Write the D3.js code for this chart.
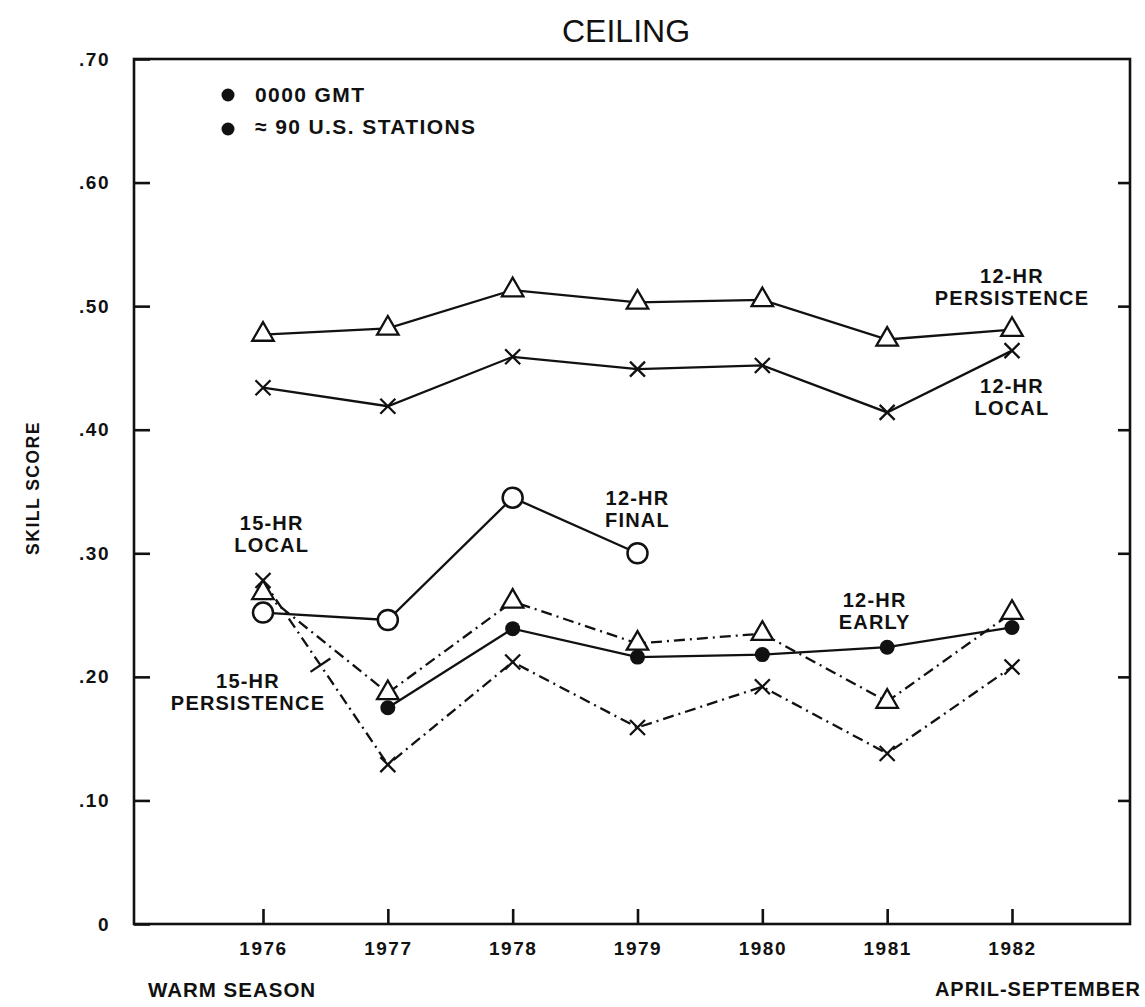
<!DOCTYPE html>
<html>
<head>
<meta charset="utf-8">
<script src="https://cdn.jsdelivr.net/npm/d3@7"></script>
<style>
  html, body { margin: 0; padding: 0; background: #fff; }
  svg { display: block; }
  text { font-family: "Liberation Sans", Arial, Helvetica, sans-serif; fill: #111; }
</style>
</head>
<body>
<svg id="chart" width="1145" height="1007"></svg>
<script>
// Seasons (warm season, April-September)
const years = [1976, 1977, 1978, 1979, 1980, 1981, 1982];
const yearLabels = ["1976", "1977", "1978", "1979", "1980", "1981", "1982"];
const yTickValues = [0, 0.1, 0.2, 0.3, 0.4, 0.5, 0.6, 0.7];
const yTickLabels = ["0", ".10", ".20", ".30", ".40", ".50", ".60", ".70"];

// Skill scores, one value per season (null = no forecast that season)
const persistence12 = [0.477, 0.482, 0.513, 0.503, 0.505, 0.473, 0.481];
const local12       = [0.434, 0.419, 0.459, 0.449, 0.452, 0.414, 0.464];
const final12       = [0.252, 0.246, 0.345, 0.300, null, null, null];
const early12       = [null, 0.175, 0.239, 0.216, 0.218, 0.224, 0.240];
const persistence15 = [0.268, 0.187, 0.261, 0.227, 0.235, 0.180, 0.252];
const local15       = [0.278, 0.129, 0.212, 0.159, 0.192, 0.138, 0.208];

const legendLines = ["0000 GMT", "\u2248 90 U.S. STATIONS"];

const svg = d3.select("#chart");
const ink = "#111";
const frame = { left: 134, right: 1130, top: 59, bottom: 924 };

const x = d3.scaleLinear().domain([1976, 1982]).range([263, 1012]);
const y = d3.scaleLinear().domain([0, 0.7]).range([frame.bottom, frame.top]);

const tickFont = { size: 19, spacing: 1.5 };

// ---- title ----
svg.append("text")
  .attr("x", 626).attr("y", 42)
  .attr("text-anchor", "middle")
  .style("font-size", "32px")
  .text("CEILING");

// ---- frame ----
svg.append("rect")
  .attr("x", frame.left).attr("y", frame.top)
  .attr("width", frame.right - frame.left)
  .attr("height", frame.bottom - frame.top)
  .attr("fill", "none").attr("stroke", ink).attr("stroke-width", 2.6);

function styleAxis(g) {
  g.select(".domain").remove();
  g.selectAll(".tick line").attr("stroke", ink).attr("stroke-width", 2.6);
  g.selectAll(".tick text")
    .attr("fill", ink)
    .style("font-family", '"Liberation Sans", Arial, sans-serif')
    .style("font-weight", "bold")
    .style("font-size", tickFont.size + "px")
    .style("letter-spacing", tickFont.spacing + "px");
}

// left axis with inward ticks
svg.append("g")
  .attr("transform", `translate(${frame.left},0)`)
  .call(d3.axisLeft(y)
    .tickValues(yTickValues)
    .tickFormat((d, i) => yTickLabels[i])
    .tickSizeInner(-16).tickSizeOuter(0).tickPadding(24))
  .call(styleAxis);

// right axis, ticks only
svg.append("g")
  .attr("transform", `translate(${frame.right},0)`)
  .call(d3.axisRight(y)
    .tickValues(yTickValues.filter(v => v > 0 && v < 0.7))
    .tickFormat("")
    .tickSizeInner(-12).tickSizeOuter(0))
  .call(styleAxis);

// bottom axis with upward ticks
svg.append("g")
  .attr("transform", `translate(0,${frame.bottom})`)
  .call(d3.axisBottom(x)
    .tickValues(years)
    .tickFormat((d, i) => yearLabels[i])
    .tickSizeInner(-15).tickSizeOuter(0).tickPadding(18))
  .call(styleAxis);

// axis captions
svg.append("text")
  .attr("transform", "translate(39,488) rotate(-90)")
  .attr("text-anchor", "middle")
  .style("font-weight", "bold").style("font-size", "17.5px")
  .style("letter-spacing", "1.5px")
  .text("SKILL SCORE");

svg.append("text")
  .attr("x", 148).attr("y", 997)
  .style("font-weight", "bold").style("font-size", "20.5px")
  .style("letter-spacing", "1px")
  .text("WARM SEASON");

svg.append("text")
  .attr("x", 1141).attr("y", 996)
  .attr("text-anchor", "end")
  .style("font-weight", "bold").style("font-size", "20px")
  .style("letter-spacing", "1px")
  .text("APRIL-SEPTEMBER");

// ---- legend ----
const legend = svg.append("g");
legendLines.forEach((t, i) => {
  legend.append("circle")
    .attr("cx", 228).attr("cy", 95 + i * 34).attr("r", 6.5).attr("fill", ink);
  legend.append("text")
    .attr("x", 255).attr("y", 102 + i * 32)
    .style("font-weight", "bold").style("font-size", "21px")
    .style("letter-spacing", "1.4px")
    .text(t);
});

// ---- series ----
const dashDot = "11,5,2,5";
const series = [
  { values: persistence12, marker: "triangle", dash: null },
  { values: local12,       marker: "cross",    dash: null },
  { values: final12,       marker: "open",     dash: null },
  { values: persistence15, marker: "triangle", dash: dashDot },
  { values: local15,       marker: "cross",    dash: dashDot },
  { values: early12,       marker: "dot",      dash: null }
];

const line = d3.line()
  .defined(d => d.v != null)
  .x(d => x(d.year))
  .y(d => y(d.v));

const plot = svg.append("g");

series.forEach(s => {
  const pts = s.values.map((v, i) => ({ year: years[i], v }));
  plot.append("path")
    .datum(pts)
    .attr("d", line)
    .attr("fill", "none")
    .attr("stroke", ink)
    .attr("stroke-width", 2.3)
    .attr("stroke-dasharray", s.dash);
});

// pointer tick across the 15-HR local line, between 1976 and 1977
{
  const t = 0.46;
  const x0 = x(years[0]), y0 = y(local15[0]);
  const x1 = x(years[1]), y1 = y(local15[1]);
  const px = x0 + t * (x1 - x0), py = y0 + t * (y1 - y0);
  const len = Math.hypot(x1 - x0, y1 - y0);
  const nx = -(y1 - y0) / len, ny = (x1 - x0) / len;
  plot.append("line")
    .attr("x1", px - nx * 12).attr("y1", py - ny * 12)
    .attr("x2", px + nx * 12).attr("y2", py + ny * 12)
    .attr("stroke", ink).attr("stroke-width", 2.3);
}

const triangle = d3.symbol().type(d3.symbolTriangle).size(200);
const crossPath = s => `M${-s},${-s}L${s},${s}M${-s},${s}L${s},${-s}`;

series.forEach(s => {
  const pts = s.values.map((v, i) => ({ year: years[i], v })).filter(d => d.v != null);
  const g = plot.append("g");
  const sel = g.selectAll("g").data(pts).join("g")
    .attr("transform", d => `translate(${x(d.year)},${y(d.v)})`);
  if (s.marker === "triangle") {
    sel.append("path").attr("d", triangle)
      .attr("fill", "#fff").attr("stroke", ink).attr("stroke-width", 2.3);
  } else if (s.marker === "cross") {
    sel.append("path").attr("d", crossPath(7.5))
      .attr("fill", "none").attr("stroke", ink).attr("stroke-width", 2.3);
  } else if (s.marker === "open") {
    sel.append("circle").attr("r", 10)
      .attr("fill", "#fff").attr("stroke", ink).attr("stroke-width", 2.5);
  } else if (s.marker === "dot") {
    sel.append("circle").attr("r", 7.5).attr("fill", ink);
  }
});

// ---- series labels ----
const seriesLabels = [
  { lines: ["12-HR", "PERSISTENCE"], year: 1982,    v: 0.5247 },
  { lines: ["12-HR", "LOCAL"],       year: 1982,    v: 0.4357 },
  { lines: ["12-HR", "FINAL"],       year: 1979,    v: 0.345 },
  { lines: ["15-HR", "LOCAL"],       year: 1976.07, v: 0.325 },
  { lines: ["15-HR", "PERSISTENCE"], year: 1975.88, v: 0.197 },
  { lines: ["12-HR", "EARLY"],       year: 1980.9,  v: 0.263 }
];

seriesLabels.forEach(l => {
  const t = svg.append("text")
    .attr("text-anchor", "middle")
    .style("font-weight", "bold").style("font-size", "20px")
    .style("letter-spacing", "1.2px");
  l.lines.forEach((s, i) => {
    t.append("tspan")
      .attr("x", x(l.year))
      .attr("y", y(l.v) + 7.5 + i * 22)
      .text(s);
  });
});
</script>
</body>
</html>
